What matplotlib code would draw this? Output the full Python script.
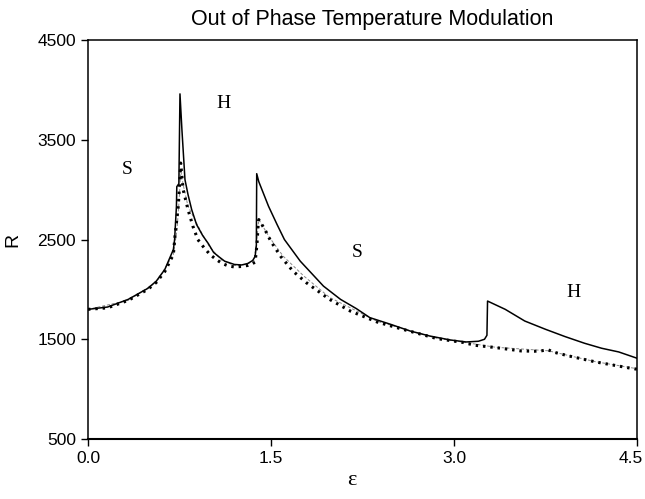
import matplotlib
matplotlib.use("Agg")
import matplotlib.pyplot as plt
from matplotlib.transforms import ScaledTranslation

# solid curve
x_solid = [0.0, 0.16, 0.33, 0.49, 0.56, 0.63, 0.70, 0.71, 0.725, 0.728, 0.745, 0.754,
           0.77, 0.795, 0.82, 0.85, 0.89, 0.94, 0.986, 1.03, 1.07, 1.12, 1.2, 1.26,
           1.31, 1.35, 1.37, 1.38, 1.383, 1.40, 1.48, 1.55, 1.61, 1.74, 1.93, 2.07,
           2.20, 2.31, 2.48, 2.64, 2.80, 2.97, 3.10, 3.20, 3.25, 3.27, 3.275, 3.42,
           3.58, 3.75, 3.91, 4.07, 4.21, 4.35, 4.5]
r_solid = [1800, 1823, 1900, 2010, 2083, 2200, 2400, 2500, 2833, 3030, 3060, 3960,
           3600, 3100, 2950, 2800, 2650, 2540, 2460, 2370, 2330, 2283, 2250, 2245,
           2260, 2290, 2330, 2440, 3160, 3080, 2833, 2650, 2500, 2283, 2033, 1900,
           1807, 1717, 1650, 1583, 1533, 1493, 1473, 1480, 1500, 1540, 1883, 1800,
           1683, 1600, 1527, 1460, 1410, 1373, 1310]

# dotted curve
x_dot = [0.0, 0.16, 0.33, 0.49, 0.56, 0.63, 0.70, 0.713, 0.74, 0.75, 0.76, 0.78,
         0.82, 0.86, 0.9, 0.95, 1.0, 1.05, 1.1, 1.15, 1.2, 1.26, 1.31, 1.35, 1.37,
         1.385, 1.395, 1.40, 1.45, 1.5, 1.58, 1.68, 1.79, 1.98, 2.15, 2.37, 2.58,
         2.86, 3.08, 3.17, 3.34, 3.55, 3.66, 3.72, 3.77, 3.82, 3.94, 4.16, 4.46, 4.5]
r_dot = [1800, 1815, 1890, 2000, 2070, 2180, 2350, 2533, 2833, 3033, 3267, 3000,
         2800, 2633, 2500, 2420, 2350, 2300, 2260, 2235, 2225, 2230, 2240, 2260, 2273,
         2450, 2650, 2700, 2600, 2480, 2330, 2183, 2067, 1900, 1783, 1673, 1600,
         1507, 1467, 1440, 1417, 1383, 1380, 1385, 1395, 1370, 1333, 1273, 1207, 1200]

# thin dashed grey curve
x_dash = [0.0, 0.33, 0.56, 0.70, 0.73, 0.75, 0.76, 0.78, 0.82, 0.93, 1.0, 1.1, 1.2,
          1.3, 1.36, 1.38, 1.40, 1.49, 1.6, 1.77, 1.98, 2.37, 2.86, 3.08, 3.34,
          3.77, 4.16, 4.5]
r_dash = [1800, 1890, 2070, 2350, 2600, 2950, 3200, 3050, 2833, 2570, 2420, 2290,
          2240, 2250, 2290, 2450, 2700, 2517, 2333, 2133, 1920, 1680, 1510, 1470,
          1420, 1385, 1275, 1205]

labels = ["S", "H", "S", "H"]
label_x = [0.32, 1.11, 2.21, 3.98]
label_r = [3200, 3860, 2367, 1967]

fig = plt.figure(figsize=(6.45, 4.99), dpi=100)
ax = fig.add_axes([0.1364, 0.1202, 0.8512, 0.7996])

ax.plot(x_dash, r_dash, color="#888888", lw=0.7, ls=(0, (3, 2)))
ax.plot(x_dot, r_dot, color="black", lw=2.2, ls=(0, (0.8, 1.6)))
ax.plot(x_solid, r_solid, color="black", lw=1.1)

for t, x, r in zip(labels, label_x, label_r):
    ax.text(x, r, t, family="Liberation Serif", fontsize=14, ha="center", va="center")

ax.set_xlim(0, 4.5)
ax.set_ylim(500, 4500)
ax.set_xticks([0.0, 1.5, 3.0, 4.5])
ax.set_xticklabels(["0.0", "1.5", "3.0", "4.5"])
ax.set_yticks([500, 1500, 2500, 3500, 4500])
ax.tick_params(direction="out", length=5, width=1, labelsize=12.5)
for lab in ax.get_xticklabels() + ax.get_yticklabels():
    lab.set_family("Liberation Sans")
# keep the last x label inside the picture
last = ax.get_xticklabels()[-1]
last.set_transform(last.get_transform() + ScaledTranslation(-6 / 100, 0, fig.dpi_scale_trans))
for s in ax.spines.values():
    s.set_linewidth(1.1)
ax.spines["bottom"].set_linewidth(1.5)

fig.text(372 / 645, 1 - 25 / 499, "Out of Phase Temperature Modulation",
         family="Liberation Sans", fontsize=15.5, ha="center", va="baseline")
ax.text(-0.137, 0.5, "R", transform=ax.transAxes, family="Liberation Sans",
        fontsize=14, rotation=90, ha="center", va="center")
ax.text(0.481, -0.105, "ε", transform=ax.transAxes, family="Liberation Serif",
        fontsize=16, ha="center", va="center")

fig.savefig("out.png", dpi=100)
